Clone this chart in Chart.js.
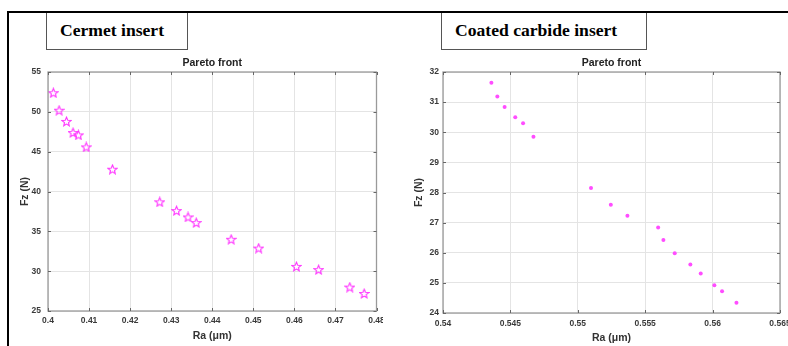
<!DOCTYPE html>
<html>
<head>
<meta charset="utf-8">
<script src="https://cdn.jsdelivr.net/npm/chart.js@4.4.1/dist/chart.umd.min.js"></script>
<style>
  body { margin: 0; background: #fff; width: 788px; height: 346px; overflow: hidden; position: relative; }
  canvas { position: absolute; }
  .frame-top { position: absolute; left: 7px; top: 11px; width: 781px; height: 2px; background: #000; z-index: 3; }
  .frame-left { position: absolute; left: 7px; top: 11px; width: 2px; height: 335px; background: #000; z-index: 3; }
  .tag {
    position: absolute; top: 11px; height: 39px; box-sizing: border-box;
    border: 1.5px solid #555; background: #fff; z-index: 2;
    font-family: "Liberation Serif", "Times New Roman", serif; font-weight: bold; font-size: 17.6px;
    line-height: 36px; padding-left: 13px; color: #000;
  }
</style>
</head>
<body>
<canvas id="cermet" width="383" height="296" style="left:0;top:50px"></canvas>
<canvas id="carbide" width="394" height="296" style="left:394px;top:50px"></canvas>
<div class="frame-top"></div>
<div class="frame-left"></div>
<div class="tag" style="left:46px;width:142px">Cermet insert</div>
<div class="tag" style="left:441px;width:206px">Coated carbide insert</div>
<script>
// Cermet insert - Pareto front
const cermetRa = [0.4013, 0.4027, 0.4045, 0.4061, 0.4074, 0.4093, 0.4157, 0.4272, 0.4313, 0.4341, 0.4361, 0.4446, 0.4513, 0.4605, 0.4659, 0.4735, 0.4770];
const cermetFz = [52.4, 50.2, 48.8, 47.4, 47.1, 45.6, 42.8, 38.7, 37.6, 36.8, 36.1, 34.0, 32.9, 30.6, 30.2, 28.0, 27.2];
const cermetXTicks = [0.4, 0.41, 0.42, 0.43, 0.44, 0.45, 0.46, 0.47, 0.48];
const cermetYTicks = [25, 30, 35, 40, 45, 50, 55];

// Coated carbide insert - Pareto front
const carbideRa = [0.54359, 0.54403, 0.54457, 0.54536, 0.54594, 0.54671, 0.55098, 0.55245, 0.55368, 0.55596, 0.55635, 0.55719, 0.55835, 0.55912, 0.56013, 0.56070, 0.56177];
const carbideFz = [31.64, 31.19, 30.84, 30.50, 30.30, 29.85, 28.15, 27.59, 27.23, 26.84, 26.42, 25.98, 25.61, 25.31, 24.92, 24.72, 24.34];
const carbideXTicks = [0.54, 0.545, 0.55, 0.555, 0.56, 0.565];
const carbideYTicks = [24, 25, 26, 27, 28, 29, 30, 31, 32];

const FONT = "'Liberation Sans', Arial, Helvetica, sans-serif";
const MAGENTA = "#ff33ff";

// hollow 5-point star like matlab 'p' marker
function starImage(size, color) {
  const c = document.createElement("canvas");
  c.width = c.height = size;
  const g = c.getContext("2d");
  const cx = size / 2, cy = size / 2 + 0.5, R = size / 2 - 0.8, r = R * 0.45;
  g.beginPath();
  for (let i = 0; i < 10; i++) {
    const a = -Math.PI / 2 + i * Math.PI / 5;
    const rad = i % 2 ? r : R;
    g.lineTo(cx + rad * Math.cos(a), cy + rad * Math.sin(a));
  }
  g.closePath();
  g.strokeStyle = color;
  g.lineWidth = 1.1;
  g.stroke();
  return c;
}

// box around plot + small inward ticks
const boxPlugin = {
  id: "box",
  afterDraw(chart) {
    const { ctx, chartArea: a, scales: { x, y } } = chart;
    ctx.save();
    ctx.strokeStyle = "#9a9a9a";
    ctx.lineWidth = 1.3;
    ctx.strokeRect(a.left, a.top, a.right - a.left, a.bottom - a.top);
    ctx.strokeStyle = "#666";
    ctx.lineWidth = 1;
    ctx.beginPath();
    x.ticks.forEach(t => {
      const px = Math.round(x.getPixelForValue(t.value)) + 0.5;
      ctx.moveTo(px, a.top); ctx.lineTo(px, a.top + 3);
      ctx.moveTo(px, a.bottom); ctx.lineTo(px, a.bottom - 3);
    });
    y.ticks.forEach(t => {
      const py = Math.round(y.getPixelForValue(t.value)) + 0.5;
      ctx.moveTo(a.left, py); ctx.lineTo(a.left + 3, py);
      ctx.moveTo(a.right, py); ctx.lineTo(a.right - 3, py);
    });
    ctx.stroke();
    ctx.restore();
  }
};

function makeChart(id, ra, fz, xTicks, yTicks, point, lay) {
  const tickFont = { family: FONT, size: 8.5, weight: "bold" };
  const labelFont = { family: FONT, size: 10.5, weight: "bold" };
  return new Chart(document.getElementById(id), {
    type: "scatter",
    data: {
      datasets: [{
        data: ra.map((v, i) => ({ x: v, y: fz[i] })),
        ...point
      }]
    },
    options: {
      responsive: false,
      animation: false,
      layout: { padding: { left: 0, right: lay.right, top: 0, bottom: 0 } },
      plugins: {
        legend: { display: false },
        tooltip: { enabled: false },
        title: {
          display: true,
          text: "Pareto front",
          fullSize: false,
          color: "#222",
          font: labelFont,
          padding: { top: 7, bottom: 2.4 }
        }
      },
      scales: {
        x: {
          type: "linear",
          min: xTicks[0],
          max: xTicks[xTicks.length - 1],
          afterBuildTicks: s => { s.ticks = xTicks.map(v => ({ value: v })); },
          afterFit: s => { s.height = lay.xh; s.paddingLeft = 0; s.paddingRight = 0; },
          ticks: { autoSkip: false, maxRotation: 0, padding: lay.xpad, color: "#3a3a3a", font: tickFont, callback: v => String(v) },
          grid: { color: "#e4e4e4", drawTicks: false },
          border: { display: false },
          title: { display: true, text: "Ra (μm)", color: "#333", font: labelFont, padding: { top: 0, bottom: lay.xtb } }
        },
        y: {
          type: "linear",
          min: yTicks[0],
          max: yTicks[yTicks.length - 1],
          afterBuildTicks: s => { s.ticks = yTicks.map(v => ({ value: v })); },
          afterFit: s => { s.width = lay.yw; s.paddingTop = 0; s.paddingBottom = 0; },
          ticks: { padding: lay.ypad, color: "#3a3a3a", font: tickFont, callback: v => String(v) },
          grid: { color: "#e4e4e4", drawTicks: false },
          border: { display: false },
          title: { display: true, text: "Fz (N)", color: "#333", font: labelFont, padding: { top: 18.7, bottom: 0 } }
        }
      }
    },
    plugins: [boxPlugin]
  });
}

makeChart("cermet", cermetRa, cermetFz, cermetXTicks, cermetYTicks,
  { pointStyle: starImage(11, MAGENTA), pointRadius: 5.5 },
  { right: 2, xh: 35, yw: 48, xpad: 5, ypad: 7, xtb: 3.7 });

makeChart("carbide", carbideRa, carbideFz, carbideXTicks, carbideYTicks,
  { pointStyle: "circle", pointRadius: 2, backgroundColor: "#ff4dff", borderColor: "#ff4dff", borderWidth: 0 },
  { right: 8, xh: 33, yw: 49, xpad: 6, ypad: 4, xtb: 1.7 });
</script>
</body>
</html>
